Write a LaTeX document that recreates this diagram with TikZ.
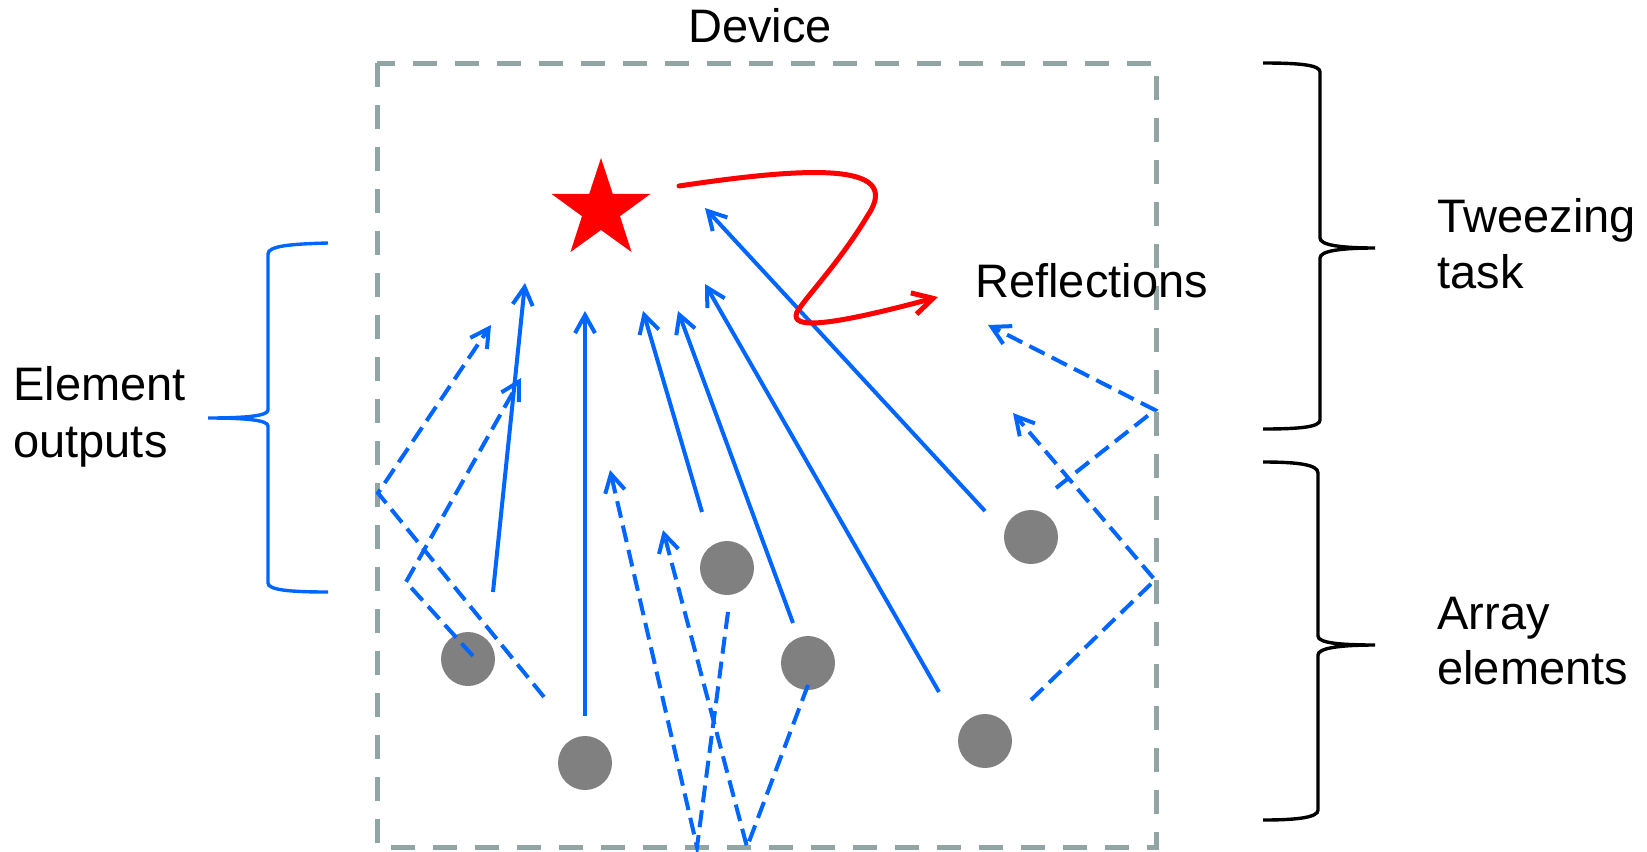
\documentclass[tikz,border=0pt]{standalone}
\usepackage{fontspec}
\setmainfont{Liberation Sans}
\usetikzlibrary{arrows.meta}
\definecolor{cblue}{RGB}{0,102,255}
\definecolor{cred}{RGB}{255,0,0}
\definecolor{cgray}{RGB}{128,128,128}
\definecolor{cbox}{RGB}{145,165,165}
\begin{document}
\begin{tikzpicture}[x=0.5pt,y=-0.5pt,
  elem/.style={circle,fill=cgray,minimum size=27pt,inner sep=0pt},
  ray/.style={cblue,line width=2pt,-{Straight Barb[length=9pt,width=10pt]}},
  dray/.style={ray,dash pattern=on 8.5pt off 4pt},
  redray/.style={cred,line width=2.5pt,line cap=round,-{Straight Barb[length=10pt,width=11pt]}},
  lbl/.style={font=\fontsize{23.5}{28}\selectfont,inner sep=0pt,anchor=base west},
  bluebrace/.style={cblue,line width=1.7pt},
  blackbrace/.style={black,line width=1.7pt},
  devbox/.style={cbox,line width=2.5pt,dash pattern=on 12pt off 9pt}]
\useasboundingbox (0,0) rectangle (1647,851);

% device box
\draw[devbox] (377,63) rectangle (1156,847);
\node[lbl,anchor=base] (device) at (760,42) {Device};

% array elements
\node[elem] (c1) at (468,659) {};
\node[elem] (c2) at (585,763) {};
\node[elem] (c3) at (727,568) {};
\node[elem] (c4) at (808,663) {};
\node[elem] (c5) at (985,741) {};
\node[elem] (c6) at (1031,537) {};

% star (target)
\coordinate (star) at (601,210);
\fill[cred,shift={(star)}] (-90:52) -- (-54:20) -- (-18:52) -- (18:20) -- (54:52)
  -- (90:20) -- (126:52) -- (162:20) -- (198:52) -- (234:20) -- cycle;

% solid outputs
\coordinate (a1s) at (493,592); \coordinate (a1e) at (525,283);
\coordinate (a2s) at (585,716); \coordinate (a2e) at (585,311);
\coordinate (a3s) at (702,512); \coordinate (a3e) at (643,311);
\coordinate (a4s) at (793,623); \coordinate (a4e) at (678,311);
\coordinate (a5s) at (939,692); \coordinate (a5e) at (705,284);
\coordinate (a6s) at (985,511); \coordinate (a6e) at (705,208);
\draw[ray] (a1s) -- (a1e);
\draw[ray] (a2s) -- (a2e);
\draw[ray] (a3s) -- (a3e);
\draw[ray] (a4s) -- (a4e);
\draw[ray] (a5s) -- (a5e);
\draw[ray] (a6s) -- (a6e);

% reflected (dashed) outputs
\coordinate (d1s) at (544,697); \coordinate (d1w) at (378,493); \coordinate (d1e) at (491,325);
\coordinate (d2s) at (473,656); \coordinate (d2w) at (406,582); \coordinate (d2e) at (521,378);
\coordinate (d3s) at (728,612); \coordinate (d3w) at (697,847); \coordinate (d3e) at (610,470);
\coordinate (d4s) at (808,685); \coordinate (d4w) at (747,847); \coordinate (d4e) at (663,530);
\coordinate (d5s) at (1031,700); \coordinate (d5w) at (1155,580); \coordinate (d5e) at (1013,413);
\coordinate (d6s) at (1056,488); \coordinate (d6w) at (1155,410); \coordinate (d6e) at (988,325);
\draw[dray] (d1s) -- (d1w) -- (d1e);
\draw[dray] (d2s) -- (d2w) -- (d2e);
\draw[dray] (d3s) -- (d3w) -- (d3e);
\draw[dray] (d4s) -- (d4w) -- (d4e);
\draw[dray] (d5s) -- (d5w) -- (d5e);
\draw[dray] (d6s) -- (d6w) -- (d6e);

% reflections (red)
\coordinate (rs) at (679,186);
\coordinate (re) at (938,297);
\draw[redray] (rs) .. controls (800,168) and (905,160) .. (868,215)
  .. controls (840,262) and (805,298) .. (797,312)
  .. controls (789,330) and (830,326) .. (re);
\node[lbl] (refl) at (975,297) {Reflections};

% left brace
\draw[bluebrace] (328,243) .. controls (290,244) and (268,246) .. (268,254)
  -- (268,410) .. controls (268,416) and (245,418) .. (208,418)
  .. controls (245,418) and (268,420) .. (268,426)
  -- (268,583) .. controls (268,590) and (290,592) .. (328,592);
\node[lbl] (el1) at (13,400) {Element};
\node[lbl] (el2) at (13,457) {outputs};

% right braces
\draw[blackbrace] (1263,63) .. controls (1300,63) and (1320,65) .. (1320,72)
  -- (1320,238) .. controls (1320,245) and (1340,248) .. (1375,248)
  .. controls (1340,248) and (1320,251) .. (1320,258)
  -- (1320,420) .. controls (1320,427) and (1300,429) .. (1263,429);
\draw[blackbrace] (1263,462) .. controls (1300,462) and (1318,465) .. (1318,473)
  -- (1318,636) .. controls (1318,643) and (1340,645) .. (1375,645)
  .. controls (1340,645) and (1318,648) .. (1318,655)
  -- (1318,810) .. controls (1318,817) and (1300,820) .. (1263,820);
\node[lbl] (tw1) at (1437,232) {Tweezing};
\node[lbl] (tw2) at (1437,288) {task};
\node[lbl] (ar1) at (1437,629) {Array};
\node[lbl] (ar2) at (1437,684) {elements};
\end{tikzpicture}
\end{document}
